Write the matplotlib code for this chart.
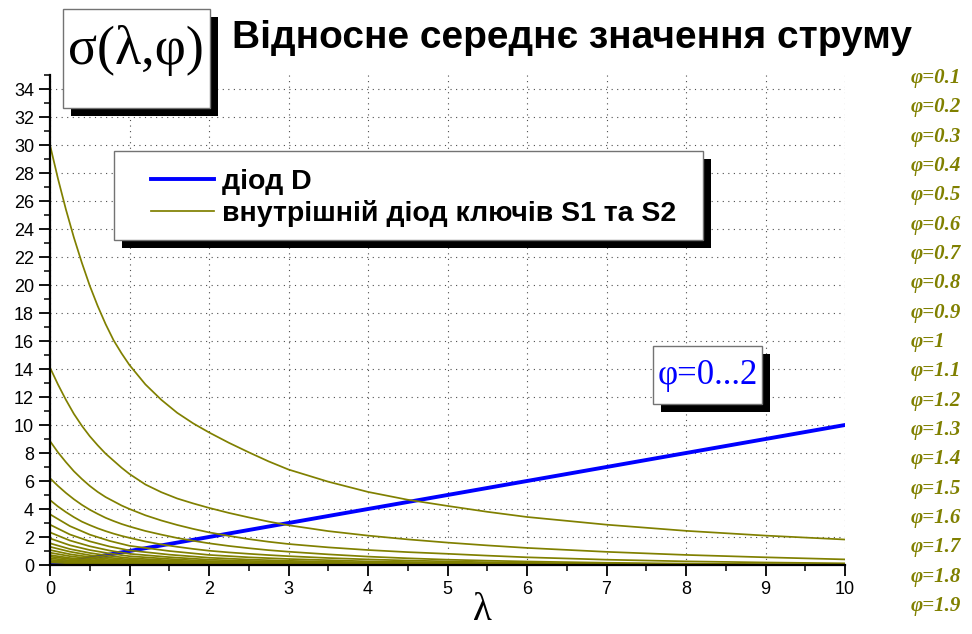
import matplotlib
matplotlib.use("Agg")
import matplotlib.pyplot as plt
from matplotlib.patches import Rectangle
from matplotlib.ticker import MultipleLocator

# finer lambda grid for the steep upper curves, coarser one for the rest
lam_fine = [0, 0.1, 0.2, 0.3, 0.4, 0.5, 0.6, 0.7, 0.8, 0.9, 1.0, 1.2, 1.4, 1.6, 1.8,
            2.0, 2.25, 2.5, 2.75, 3.0, 3.5, 4, 4.5, 5, 5.5, 6, 7, 8, 9, 10]
lam = [0, 0.25, 0.5, 0.75, 1, 1.5, 2, 2.5, 3, 4, 5, 6, 7, 8, 9, 10]
phi = [0.1, 0.2, 0.3, 0.4, 0.5, 0.6, 0.7, 0.8, 0.9, 1.0,
       1.1, 1.2, 1.3, 1.4, 1.5, 1.6, 1.7, 1.8, 1.9]

# sigma values on lam_fine
s_01 = [30, 27.6, 25.4, 23.4, 21.6, 19.95, 18.5, 17.2, 16.05, 15.12, 14.28, 12.9, 11.8, 10.87, 10.12,
        9.47, 8.73, 8.05, 7.4, 6.82, 5.95, 5.22, 4.66, 4.22, 3.8, 3.43, 2.88, 2.44, 2.1, 1.82]
s_02 = [14.1, 12.9, 11.8, 10.8, 9.95, 9.2, 8.55, 7.95, 7.45, 6.95, 6.5, 5.75, 5.2, 4.75, 4.4,
        4.08, 3.72, 3.4, 3.1, 2.84, 2.42, 2.1, 1.83, 1.6, 1.4, 1.22, 0.94, 0.72, 0.55, 0.4]
s_03 = [8.85, 8.05, 7.35, 6.7, 6.15, 5.65, 5.22, 4.85, 4.55, 4.25, 4.0, 3.55, 3.18, 2.86, 2.58,
        2.33, 2.08, 1.85, 1.66, 1.5, 1.26, 1.07, 0.92, 0.8, 0.67, 0.55, 0.38, 0.26, 0.18, 0.12]
s_04 = [6.2, 5.65, 5.15, 4.7, 4.3, 3.95, 3.65, 3.37, 3.14, 2.93, 2.75, 2.43, 2.17, 1.93, 1.73,
        1.55, 1.36, 1.2, 1.06, 0.95, 0.76, 0.6, 0.48, 0.38, 0.31, 0.25, 0.16, 0.1, 0.06, 0.04]
s_05 = [4.64, 4.18, 3.78, 3.42, 3.1, 2.85, 2.62, 2.42, 2.24, 2.08, 1.94, 1.68, 1.47, 1.3, 1.15,
        1.02, 0.9, 0.8, 0.71, 0.63, 0.5, 0.4, 0.32, 0.26, 0.2, 0.16, 0.09, 0.05, 0.03, 0.015]

# sigma values on lam
s_06 = [3.62, 2.78, 2.17, 1.72, 1.37, 1.0, 0.72, 0.55, 0.43, 0.26, 0.17, 0.09, 0.045, 0.02, 0.01, 0.005]
s_07 = [2.88, 2.18, 1.69, 1.32, 1.04, 0.74, 0.52, 0.39, 0.3, 0.18, 0.11, 0.05, 0.025, 0.01, 0, 0]
s_08 = [2.33, 1.75, 1.34, 1.03, 0.8, 0.56, 0.38, 0.29, 0.22, 0.12, 0.07, 0.03, 0.012, 0.005, 0, 0]
s_09 = [1.9, 1.41, 1.07, 0.82, 0.63, 0.43, 0.28, 0.21, 0.16, 0.08, 0.045, 0.02, 0.008, 0, 0, 0]
s_10 = [1.55, 1.14, 0.86, 0.65, 0.49, 0.33, 0.21, 0.15, 0.11, 0.056, 0.029, 0.012, 0.004, 0, 0, 0]
s_11 = [1.3, 0.95, 0.7, 0.52, 0.39, 0.26, 0.16, 0.11, 0.082, 0.04, 0.02, 0.007, 0.002, 0, 0, 0]
s_12 = [1.07, 0.77, 0.57, 0.42, 0.31, 0.2, 0.12, 0.085, 0.06, 0.027, 0.013, 0.004, 0, 0, 0, 0]
s_13 = [0.88, 0.63, 0.46, 0.33, 0.24, 0.15, 0.09, 0.062, 0.043, 0.019, 0.009, 0.003, 0, 0, 0, 0]
s_14 = [0.71, 0.5, 0.36, 0.26, 0.19, 0.11, 0.066, 0.045, 0.031, 0.013, 0.006, 0.002, 0, 0, 0, 0]
s_15 = [0.6, 0.42, 0.3, 0.21, 0.15, 0.09, 0.051, 0.034, 0.023, 0.009, 0.004, 0, 0, 0, 0, 0]
s_16 = [0.48, 0.33, 0.235, 0.16, 0.115, 0.068, 0.037, 0.025, 0.016, 0.006, 0.003, 0, 0, 0, 0, 0]
s_17 = [0.37, 0.25, 0.18, 0.12, 0.084, 0.049, 0.026, 0.017, 0.011, 0.004, 0, 0, 0, 0, 0, 0]
s_18 = [0.27, 0.18, 0.127, 0.085, 0.059, 0.033, 0.017, 0.011, 0.007, 0.003, 0, 0, 0, 0, 0, 0]
s_19 = [0.18, 0.12, 0.083, 0.055, 0.037, 0.021, 0.01, 0.006, 0.004, 0.002, 0, 0, 0, 0, 0, 0]

# diode D: sigma grows linearly with lambda
diode_lam = [0, 10]
diode_sigma = [0, 10]

curves = [(lam_fine, s) for s in (s_01, s_02, s_03, s_04, s_05)] + \
         [(lam, s) for s in (s_06, s_07, s_08, s_09, s_10, s_11, s_12,
                             s_13, s_14, s_15, s_16, s_17, s_18, s_19)]

OLIVE = '#808000'
BLUE = '#0000ff'
W, H = 972, 634


def fig_xy(px, py):
    return px / W, 1 - py / H


def shadow_box(x0, y0, x1, y1, off=8):
    w, h = (x1 - x0) / W, (y1 - y0) / H
    fig.add_artist(Rectangle(fig_xy(x0 + off, y1 + off), w, h, transform=fig.transFigure,
                             facecolor='black', edgecolor='none', zorder=3))
    fig.add_artist(Rectangle(fig_xy(x0, y1), w, h, transform=fig.transFigure,
                             facecolor='white', edgecolor='0.45', lw=1.0, zorder=3.1))


plt.rcParams['font.family'] = ['Liberation Sans', 'DejaVu Sans']

fig = plt.figure(figsize=(W / 100, H / 100), dpi=100)
ax = fig.add_axes([50 / W, 1 - 565 / H, 795 / W, 490 / H])

ax.plot(diode_lam, diode_sigma, color=BLUE, lw=2.8, label='діод D')
for i, (x, s) in enumerate(curves):
    ax.plot(x, s, color=OLIVE, lw=1.25,
            label='внутрішній діод ключів S1 та S2' if i == 0 else '_nolegend_')

ax.set_xlim(0, 10)
ax.set_ylim(0, 35)
ax.xaxis.set_major_locator(MultipleLocator(1))
ax.xaxis.set_minor_locator(MultipleLocator(0.5))
ax.yaxis.set_major_locator(MultipleLocator(2))
ax.yaxis.set_minor_locator(MultipleLocator(1))
ax.grid(True, which='major', ls=(0, (1, 4)), lw=0.8, color='0.3')

for side in ('top', 'right'):
    ax.spines[side].set_visible(False)
for side in ('left', 'bottom'):
    ax.spines[side].set_linewidth(1.6)
ax.tick_params(which='major', length=8, width=1.3, labelsize=13, direction='out')
ax.tick_params(which='minor', length=4.5, width=1.1, direction='out')

fig.text(482 / W, 1 - 611 / H, 'λ', ha='center', va='center', fontsize=28,
         family='Liberation Serif')

fig.text(572 / W, 1 - 38 / H, 'Відносне середнє значення струму', ha='center', va='center',
         fontsize=28, fontweight='bold')

# sigma(lambda, phi) label box
shadow_box(63, 9, 210, 108)
fig.text(136 / W, 1 - 51 / H, 'σ(λ,φ)', ha='center', va='center', fontsize=39,
         family='Liberation Serif', zorder=4)

# legend on a framed box with a hard black shadow
shadow_box(114, 151, 703, 240)
handles, labels = ax.get_legend_handles_labels()
leg = fig.legend(handles, labels, loc='center left', bbox_to_anchor=fig_xy(151, 198),
                 frameon=False, prop=dict(weight='bold', size=20.5),
                 handlelength=2.2, handletextpad=0.3, labelspacing=0.2,
                 borderpad=0, borderaxespad=0)
leg.set_zorder(5)

# phi range box
shadow_box(653, 346, 762, 404)
fig.text(708 / W, 1 - 376 / H, 'φ=0...2', ha='center', va='center', fontsize=25,
         color=BLUE, family='Liberation Serif', zorder=4)

# phi values, one per curve, listed down the right margin
for i, p in enumerate(phi):
    fig.text(911 / W, 1 - (78 + 29.33 * i) / H, f'φ={p:g}', ha='left', va='center',
             fontsize=15, style='italic', weight='bold', color=OLIVE,
             family='Liberation Serif')

fig.savefig('out.png', dpi=100)
